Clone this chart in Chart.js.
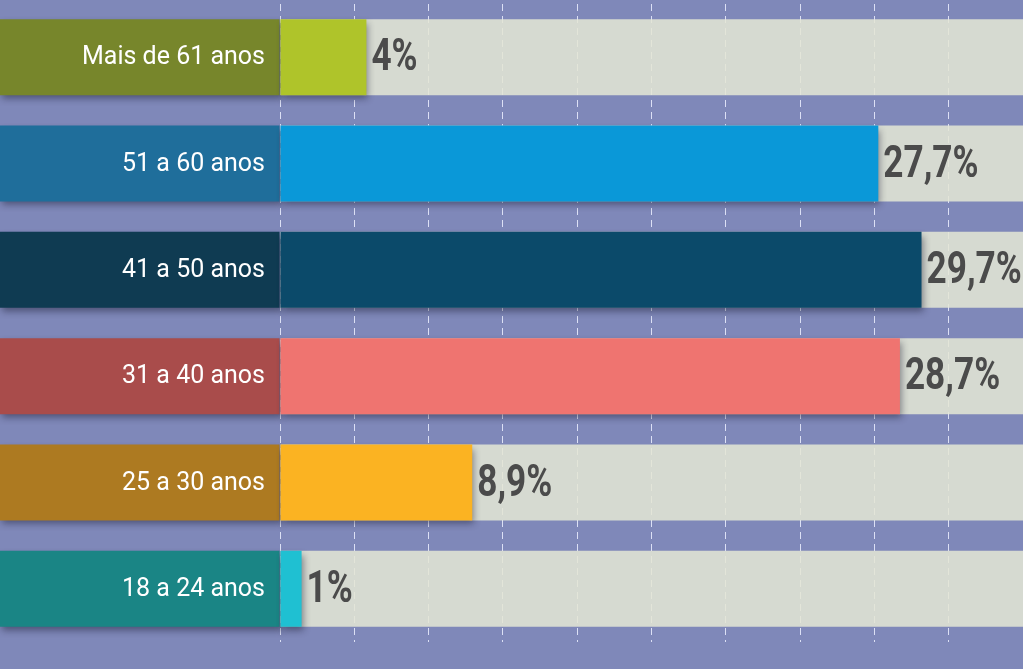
<!DOCTYPE html>
<html>
<head>
<meta charset="utf-8">
<script src="https://cdn.jsdelivr.net/npm/chart.js@4.4.0/dist/chart.umd.min.js"></script>
<style>
  html, body { margin: 0; padding: 0; background: #7f88b9; }
  #AgeBox { width: 1023px; height: 669px; }
</style>
</head>
<body>
<div id="AgeBox"><canvas id="AgeCanvas"></canvas></div>
<script>
//---------------------- DATA

const ageGroups = ["Mais de 61 anos", "51 a 60 anos", "41 a 50 anos", "31 a 40 anos", "25 a 30 anos", "18 a 24 anos"];
const shares = [4, 27.7, 29.7, 28.7, 8.9, 1];

const barColors = ["#afc42a", "#0a98d8", "#0b4a6a", "#ef7470", "#fbb322", "#1fc0d2"];
const labelColors = ["#77862b", "#1f6e9b", "#0f3b52", "#a94c4b", "#ad7a21", "#1a8585"];

//---------------------- SCALE SETUP

// the picture: zero near x=280, about 21.6 px per percent, dashed lines every ~74 px
const pxPerUnit = 21.6;
const xMin = -280 / pxPerUnit;
const xMax = 743 / pxPerUnit;
const gridStep = 74.3 / pxPerUnit;

const BACKGROUND = "#7f88b9";

//---------------------- PLUGINS

const paperBackground = {
    id: 'paperBackground',
    beforeDraw(chart) {
        const ctx = chart.ctx;
        ctx.save();
        ctx.fillStyle = BACKGROUND;
        ctx.fillRect(0, 0, chart.width, chart.height);
        ctx.restore();
    }
};

const barShadow = {
    id: 'barShadow',
    beforeDatasetDraw(chart, args) {
        if (!chart.data.datasets[args.index].withShadow) return;
        const ctx = chart.ctx;
        ctx.save();
        ctx.shadowColor = 'rgba(20, 20, 40, 0.45)';
        ctx.shadowBlur = 7;
        ctx.shadowOffsetX = 2;
        ctx.shadowOffsetY = 4;
    },
    afterDatasetDraw(chart, args) {
        if (!chart.data.datasets[args.index].withShadow) return;
        chart.ctx.restore();
    }
};

const rowTexts = {
    id: 'rowTexts',
    afterDatasetsDraw(chart) {
        const ctx = chart.ctx;
        const xScale = chart.scales.x;
        const zeroX = xScale.getPixelForValue(0);
        const bars = chart.getDatasetMeta(2).data;

        ctx.save();
        ctx.textBaseline = 'middle';
        for (let i = 0; i < ageGroups.length; i++) {
            const y = bars[i].y;

            // category label inside the dark box
            ctx.fillStyle = '#ffffff';
            ctx.font = '25px Roboto';
            ctx.textAlign = 'right';
            ctx.fillText(ageGroups[i], zeroX - 15, y + 1);

            // value label right after the bar
            ctx.save();
            ctx.translate(bars[i].x + 5, y + 2);
            ctx.scale(0.8, 1);
            ctx.fillStyle = '#4b4b4b';
            ctx.font = 'bold 44px Roboto';
            ctx.textAlign = 'left';
            ctx.fillText(`${shares[i].toString().replace('.', ',')}%`, 0, 0);
            ctx.restore();
        }
        ctx.restore();
    }
};

//---------------------- CHART

const data = {
    labels: ageGroups,
    datasets: [
        {
            label: "track",
            data: ageGroups.map(() => [0, xMax]),
            backgroundColor: 'rgba(228, 230, 212, 0.87)',
            order: 3
        },
        {
            label: "label box",
            data: ageGroups.map(() => [xMin, 0]),
            backgroundColor: labelColors,
            withShadow: true,
            order: 2
        },
        {
            label: "share",
            data: shares.map(v => [0, v]),
            backgroundColor: barColors,
            withShadow: true,
            order: 1
        }
    ]
};

new Chart(document.getElementById("AgeCanvas").getContext("2d"), {
    type: 'bar',
    data: data,
    plugins: [paperBackground, barShadow, rowTexts],
    options: {
        indexAxis: 'y',
        responsive: true,
        maintainAspectRatio: false,
        animation: false,
        layout: { padding: { top: 4, bottom: 27, left: 0, right: 0 } },
        datasets: {
            bar: {
                grouped: false,
                borderWidth: 0,
                borderSkipped: false,
                barPercentage: 1,
                categoryPercentage: 0.714
            }
        },
        scales: {
            x: {
                type: 'linear',
                min: xMin,
                max: xMax,
                afterFit: scale => { scale.height = 0; },
                ticks: { display: false, stepSize: gridStep, maxTicksLimit: 30 },
                border: { display: false, dash: [7, 5] },
                grid: {
                    drawTicks: false,
                    lineWidth: 1,
                    color: c => (c.tick && c.tick.value > -1e-6 && c.tick.value < xMax - 0.5)
                        ? 'rgba(236, 240, 255, 0.85)' : 'rgba(0,0,0,0)'
                }
            },
            y: {
                display: false,
                offset: true
            }
        },
        plugins: {
            legend: { display: false },
            tooltip: { enabled: false },
            title: { display: false }
        }
    }
});
</script>
</body>
</html>
